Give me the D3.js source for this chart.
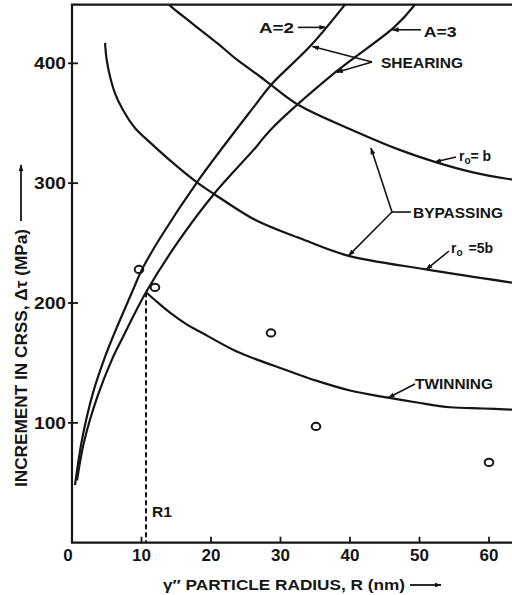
<!DOCTYPE html>
<html><head><meta charset="utf-8">
<script src="https://cdn.jsdelivr.net/npm/d3@7"></script>
<style>
body{margin:0;background:#fff}
svg{display:block}
text{font-family:"Liberation Sans",Arial,sans-serif;font-weight:bold;fill:#151515}
</style>
</head><body><svg id="c" width="512" height="595"></svg>
<script>
// ---- data (R in nm, Δτ in MPa) ----
const xTicks = [0, 10, 20, 30, 40, 50, 60];
const yTicks = [100, 200, 300, 400];
const shearingA2 = [[0.43,48],[1.44,86],[3.02,125],[4.75,155],[5.90,172],[8.78,211],[10.07,228],[12.66,254],[18.13,302],[26.47,366],[28.63,382],[34.39,415],[39.28,449]];
const shearingA3 = [[0.72,52],[1.73,84],[3.60,121],[5.76,153],[7.19,170],[10.65,209],[15.25,251],[20.43,291],[26.47,330],[28.49,344],[37.99,393],[46.33,430],[49.06,447],[49.4,450]];
const bypassB = [[13.96,449],[14.53,446],[20.86,417],[23.74,403],[27.05,389],[28.63,382],[32.66,365],[40.86,343],[47.05,328],[52.09,318],[57.70,309],[63.31,303]];
const bypass5b = [[4.75,417],[4.99,403],[5.47,389],[6.19,375],[7.34,361],[9.06,346],[11.22,334],[14.1,319],[18.13,300],[20.43,291],[26.47,269],[32.81,254],[39.42,240],[50.94,228],[63.31,217]];
const twinning = [[10.65,209],[12.23,201],[14.10,192],[16.55,182],[18.42,176],[23.17,161],[25.61,155],[30.36,145],[35.25,135],[40.0,127],[45.47,121],[49.64,117],[54.39,113],[59.14,112],[63.31,111]];
const experiments = [[9.64,228],[11.94,213],[28.63,175],[35.11,97],[60.0,67]];
const R1 = 10.65, R1peak = 209;

// ---- scales ----
const x = d3.scaleLinear().domain([0, 63.31]).range([72, 512]);
const y = d3.scaleLinear().domain([0, 449]).range([542.7, 4.6]);

const svg = d3.select("#c");
const defs = svg.append("defs");
defs.append("marker").attr("id","ah").attr("viewBox","0 0 10 10").attr("refX",9).attr("refY",5)
  .attr("markerWidth",7).attr("markerHeight",7).attr("orient","auto-start-reverse").attr("markerUnits","userSpaceOnUse")
  .append("path").attr("d","M0,1.5L10,5L0,8.5Z").attr("fill","#151515");
defs.append("clipPath").attr("id","plot").append("rect")
  .attr("x",72).attr("y",4.6).attr("width",440).attr("height",538.1);

const ink = "#151515";
// axes frame
svg.append("path").attr("d",`M${x(63.31)},${y(449)}H${x(0)}V${y(0)}H${x(63.31)}`)
  .attr("fill","none").attr("stroke",ink).attr("stroke-width",2.2);

// y ticks
yTicks.forEach(t=>{
  svg.append("line").attr("x1",x(0)-4).attr("x2",x(0)+6).attr("y1",y(t)).attr("y2",y(t)).attr("stroke",ink).attr("stroke-width",1.8);
  svg.append("text").attr("x",x(0)-6).attr("y",y(t)+6).attr("text-anchor","end").attr("font-size",17)
    .attr("textLength",32).attr("lengthAdjust","spacingAndGlyphs").text(t);
});
// x ticks
xTicks.forEach(t=>{
  if (t>0) svg.append("line").attr("x1",x(t)).attr("x2",x(t)).attr("y1",y(0)).attr("y2",y(0)-6).attr("stroke",ink).attr("stroke-width",1.8);
  svg.append("text").attr("x",x(t)-(t===0?4:0)).attr("y",y(0)+18).attr("text-anchor","middle").attr("font-size",17).text(t);
});

// curves
const line = d3.line().x(d=>x(d[0])).y(d=>y(d[1])).curve(d3.curveCatmullRom.alpha(0.5));
const g = svg.append("g").attr("clip-path","url(#plot)");
[shearingA2, shearingA3, bypassB, bypass5b, twinning].forEach(s=>{
  g.append("path").attr("d",line(s)).attr("fill","none").attr("stroke",ink).attr("stroke-width",2.2);
});
// R1 dashed
g.append("line").attr("x1",x(R1)).attr("x2",x(R1)).attr("y1",y(R1peak)).attr("y2",y(0))
  .attr("stroke",ink).attr("stroke-width",2).attr("stroke-dasharray","5,3");
// experimental circles
g.selectAll("ellipse").data(experiments).enter().append("ellipse")
  .attr("cx",d=>x(d[0])).attr("cy",d=>y(d[1])).attr("rx",4.3).attr("ry",3.6)
  .attr("fill","none").attr("stroke",ink).attr("stroke-width",2);

// annotations (data coordinates)
function arrow(a,b){
  svg.append("line").attr("x1",x(a[0])).attr("y1",y(a[1])).attr("x2",x(b[0])).attr("y2",y(b[1]))
    .attr("stroke",ink).attr("stroke-width",1.6).attr("marker-end","url(#ah)");
}
function seg(a,b){
  svg.append("line").attr("x1",x(a[0])).attr("y1",y(a[1])).attr("x2",x(b[0])).attr("y2",y(b[1]))
    .attr("stroke",ink).attr("stroke-width",1.6);
}
function label(R,v,txt,fs,len){
  const t = svg.append("text").attr("x",x(R)).attr("y",y(v)).attr("font-size",fs).text(txt);
  if(len) t.attr("textLength",len).attr("lengthAdjust","spacingAndGlyphs");
  return t;
}
label(26.9,424.9,"A=2",14,35);
arrow([32.5,430],[36.5,430]);
label(50.6,421.9,"A=3",14,33);
arrow([50.2,428],[46.1,428]);
label(44.46,396.1,"SHEARING",15,82);
arrow([43.17,401.1],[34.6,414]);
arrow([43.17,401.1],[38.1,392.5]);
// r0 = b
{
  const t = svg.append("text").attr("x",x(55.68)).attr("y",y(318.5)).attr("font-size",14);
  t.append("tspan").text("r");
  t.append("tspan").attr("font-size",10).attr("dy",3).text("o");
  t.append("tspan").attr("dy",-3).text("= b");
}
arrow([55.25,321.8],[52.2,317.6]);
label(49.06,270.9,"BYPASSING",15,90);
seg([48.78,275.9],[46.04,275.9]);
arrow([46.04,275.9],[43.02,329.3]);
arrow([46.04,275.9],[39.8,239.5]);
// r0 = 5b
{
  const t = svg.append("text").attr("x",x(54.53)).attr("y",y(241.7)).attr("font-size",14);
  t.append("tspan").text("r");
  t.append("tspan").attr("font-size",10).attr("dy",3).text("o");
  t.append("tspan").attr("dy",-3).attr("dx",6).text("=5b");
}
arrow([54.24,243.4],[50.94,227.8]);
label(49.35,128.2,"TWINNING",15,78);
arrow([49.35,132.4],[45.5,120.9]);
label(11.5,21.4,"R1",14,20);

// axis titles
svg.append("text").attr("transform","translate(27,487) rotate(-90)").attr("font-size",16)
  .attr("textLength",258).attr("lengthAdjust","spacingAndGlyphs").text("INCREMENT IN CRSS, \u0394\u03c4 (MPa)");
svg.append("line").attr("x1",21).attr("y1",221).attr("x2",21).attr("y2",165)
  .attr("stroke",ink).attr("stroke-width",1.8).attr("marker-end","url(#ah)");
svg.append("text").attr("x",163).attr("y",590).attr("font-size",14)
  .attr("textLength",242).attr("lengthAdjust","spacingAndGlyphs").text("\u03b3\u2033 PARTICLE  RADIUS, R (nm)");
svg.append("line").attr("x1",410).attr("y1",585).attr("x2",441).attr("y2",585)
  .attr("stroke",ink).attr("stroke-width",1.8).attr("marker-end","url(#ah)");
</script>
</body></html>
